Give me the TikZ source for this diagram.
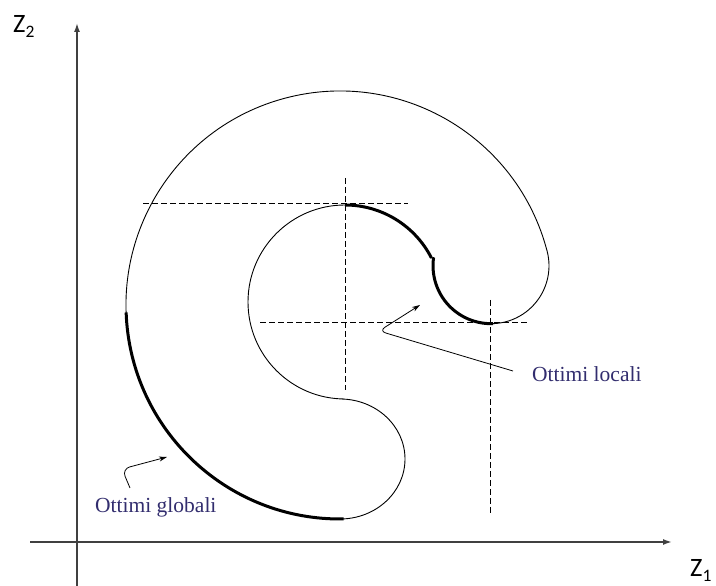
\documentclass[tikz,border=0pt]{standalone}
\usepackage{fontspec}
\setmainfont{Liberation Serif}
\newfontfamily\calib{Carlito}
\usetikzlibrary{arrows.meta,calc}
\definecolor{labelblue}{RGB}{50,45,110}
\definecolor{axisgray}{RGB}{64,64,64}
\tikzset{
  axisline/.style={draw=axisgray,line width=1.6pt,-{Latex[length=9pt,width=6pt]}},
  outline/.style={draw=black,line width=0.9pt},
  thickarc/.style={draw=black,line width=3pt},
  dashline/.style={draw=black,line width=1pt,dash pattern=on 6pt off 3pt},
  pointer/.style={draw=black,line width=0.8pt,-{Stealth[length=8pt,width=5pt]}},
  optlabel/.style={text=labelblue,inner sep=0pt,font=\fontsize{21.5}{24}\selectfont},
  axislabel/.style={inner sep=0pt,font=\calib\fontsize{26.5}{30}\selectfont}
}
\begin{document}
\begin{tikzpicture}[x=1pt,y=1pt]
\useasboundingbox (0,0) rectangle (716,586);
% centres
\coordinate (O) at (340,281);
\coordinate (I) at (345,284);
\coordinate (S) at (491,320.3);
\coordinate (L) at (340,127);
% axes
\coordinate (yb) at (77,0);
\coordinate (yt) at (77,563);
\coordinate (xl) at (30,44);
\coordinate (xr) at (672,44);
\draw[axisline] (yb) -- (yt);
\draw[axisline] (xl) -- (xr);
\node[axislabel,anchor=base west] (z2) at (13,553) {Z\raisebox{-5pt}{\calib\fontsize{17.5}{20}\selectfont 2}};
\node[axislabel,anchor=base west] (z1) at (690,9) {Z\raisebox{-4.5pt}{\calib\fontsize{17.5}{20}\selectfont 1}};
% dashed lines
\coordinate (h1a) at (143,382); \coordinate (h1b) at (408,382);
\coordinate (v1a) at (345,408); \coordinate (v1b) at (345,196);
\coordinate (h2a) at (260,263); \coordinate (h2b) at (527,263);
\coordinate (v2a) at (490,286); \coordinate (v2b) at (490,71);
\draw[dashline] (h1a) -- (h1b);
\draw[dashline] (v1a) -- (v1b);
\draw[dashline] (h2a) -- (h2b);
\draw[dashline] (v2a) -- (v2b);
% shape
\draw[outline] ($(O)+(14.6:214)$) arc[start angle=14.6,end angle=270,radius=214]
  arc[start angle=270,end angle=450,x radius=65,y radius=60]
  -- ($(I)+(-90:97)$) arc[start angle=-90,end angle=-333,radius=97]
  -- ($(S)+(172:58)$) arc[start angle=172,end angle=374.6,radius=58] -- cycle;
% thick parts
\draw[thickarc] ($(O)+(182:214)$) arc[start angle=182,end angle=271,radius=214];
\draw[thickarc] ($(I)+(90:97)$) arc[start angle=90,end angle=27,radius=97];
\draw[thickarc] ($(S)+(172:58)$) arc[start angle=172,end angle=272,radius=58];
% labels
\node[optlabel,anchor=base west] (loc) at (532,204) {Ottimi locali};
\node[optlabel,anchor=base west] (glob) at (95,73) {Ottimi globali};
% pointers
\coordinate (ls) at (513,215);
\coordinate (lk) at (379,255);
\coordinate (lt) at (420,281);
\draw[pointer,rounded corners=7pt] (ls) -- (lk) -- (lt);
\coordinate (gs) at (130,98);
\coordinate (gk) at (122,117);
\coordinate (gt) at (167,129);
\draw[pointer,rounded corners=8pt] (gs) -- (gk) -- (gt);
\end{tikzpicture}
\end{document}
